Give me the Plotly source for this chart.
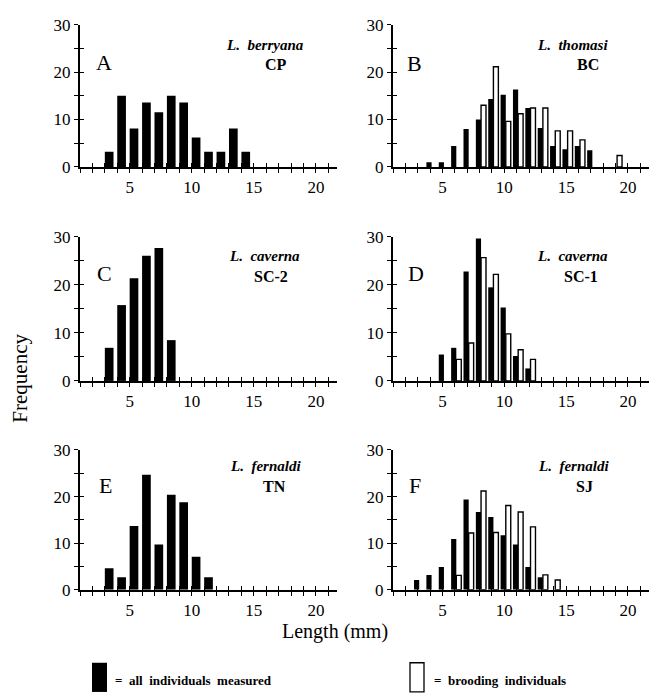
import plotly.graph_objects as go

# ---------------- data ----------------
A_len = [3, 4, 5, 6, 7, 8, 9, 10, 11, 12, 13, 14]
A_all = [3.2, 15, 8.1, 13.6, 11.5, 15, 13.6, 6.2, 3.2, 3.2, 8.1, 3.2]

B_len_all = [4, 5, 6, 7, 8, 9, 10, 11, 12, 13, 14, 15, 16, 17]
B_all = [1, 1, 4.4, 8, 10, 14.3, 15.2, 16.3, 12.4, 8.2, 4.4, 3.7, 4.4, 3.5]
B_len_brood = [8, 9, 10, 11, 12, 13, 14, 15, 16, 19]
B_brood = [13, 21.1, 9.6, 11.2, 12.4, 12.4, 7.6, 7.6, 5.7, 2.4]

C_len = [3, 4, 5, 6, 7, 8]
C_all = [6.9, 15.8, 21.4, 26.1, 27.7, 8.5]

D_len_all = [5, 6, 7, 8, 9, 10, 11, 12]
D_all = [5.5, 6.9, 22.8, 29.7, 19.5, 15.3, 5.2, 2.6]
D_len_brood = [6, 7, 8, 9, 10, 11, 12]
D_brood = [4.5, 7.9, 25.7, 22.2, 9.8, 6.5, 4.5]

E_len = [3, 4, 5, 6, 7, 8, 9, 10, 11]
E_all = [4.6, 2.7, 13.7, 24.7, 9.7, 20.4, 18.8, 7.1, 2.7]

F_len_all = [3, 4, 5, 6, 7, 8, 9, 10, 11, 12, 13]
F_all = [2.1, 3.2, 4.9, 10.9, 19.4, 16.7, 15.6, 11.7, 9.7, 4.9, 2.7]
F_len_brood = [6, 7, 8, 9, 10, 11, 12, 13, 14]
F_brood = [3.1, 12.2, 21.2, 12.3, 18.1, 16.7, 13.5, 3.2, 2.1]

panel_letters = ["A", "B", "C", "D", "E", "F"]
species = ["L.\u00a0\u00a0berryana", "L.\u00a0\u00a0thomasi", "L.\u00a0\u00a0caverna",
           "L.\u00a0\u00a0caverna", "L.\u00a0\u00a0fernaldi", "L.\u00a0\u00a0fernaldi"]
sites = ["CP", "BC", "SC-2", "SC-1", "TN", "SJ"]

x_ticks = list(range(1, 22))
x_labeled = {5: "5", 10: "10", 15: "15", 20: "20"}
x_ticklabels = [x_labeled.get(v, "") for v in x_ticks]
y_ticks = [0, 5, 10, 15, 20, 25, 30]
y_ticklabels = ["0", "", "10", "", "20", "", "30"]

# ---------------- layout geometry ----------------
W, H = 659, 700
FONT = "Liberation Serif"

def px_x(p):
    return p / W

def px_y(p):
    return 1 - p / H

x_doms = [(80, 337), (393, 649)]
y_doms = [(162.3, 16), (382.3, 234.3), (597, 453.3)]
XR = [1, 21.7]

fig = go.Figure()

panels = [
    (A_len, A_all, None, None),
    (B_len_all, B_all, B_len_brood, B_brood),
    (C_len, C_all, None, None),
    (D_len_all, D_all, D_len_brood, D_brood),
    (E_len, E_all, None, None),
    (F_len_all, F_all, F_len_brood, F_brood),
]

layout = {}
for i, (lx, ly, bx, by) in enumerate(panels):
    n = i + 1
    col = i % 2
    row = i // 2
    xs = "" if n == 1 else str(n)
    xref = "x" + xs
    yref = "y" + xs
    if bx is None:
        fig.add_trace(go.Bar(x=lx, y=ly, xaxis=xref, yaxis=yref, offset=0, width=0.7,
                             marker=dict(color="black", line=dict(width=0)), showlegend=False))
    else:
        fig.add_trace(go.Bar(x=lx, y=ly, xaxis=xref, yaxis=yref, offset=-0.3, width=0.42,
                             marker=dict(color="black", line=dict(width=0)), showlegend=False))
        fig.add_trace(go.Bar(x=bx, y=by, xaxis=xref, yaxis=yref, offset=0.12, width=0.4,
                             marker=dict(color="white", line=dict(width=1.4, color="black")),
                             showlegend=False))
    m = n + 6
    # empty helper trace so the overlay axes (inner half of the crossing ticks) are drawn
    fig.add_trace(go.Scatter(x=[], y=[], xaxis="x" + str(m), yaxis="y" + str(m),
                             showlegend=False, hoverinfo="skip"))
    xd = [px_x(x_doms[col][0]), px_x(x_doms[col][1])]
    yd = [px_y(y_doms[row][0]), px_y(y_doms[row][1])]
    common_x = dict(range=XR, tickvals=x_ticks, showgrid=False, zeroline=False,
                    tickwidth=1.3, ticklen=4, tickcolor="black")
    common_y = dict(range=[0, 30], tickvals=y_ticks, showgrid=False, zeroline=False,
                    tickwidth=1.3, ticklen=4, tickcolor="black")
    layout["xaxis" + xs] = dict(domain=xd, anchor=yref, ticktext=x_ticklabels, ticks="outside",
                                showline=True, linewidth=2, linecolor="black",
                                tickfont=dict(family=FONT, size=17, color="black"), **common_x)
    layout["yaxis" + xs] = dict(domain=yd, anchor=xref, ticktext=y_ticklabels, ticks="outside",
                                showline=True, linewidth=2, linecolor="black",
                                tickfont=dict(family=FONT, size=17, color="black"), **common_y)
    layout["xaxis" + str(m)] = dict(overlaying=xref, anchor="y" + str(m), ticks="inside",
                                    domain=xd, showticklabels=False, showline=False, **common_x)
    layout["yaxis" + str(m)] = dict(overlaying=yref, anchor="x" + str(m), ticks="inside",
                                    domain=yd, showticklabels=False, showline=False, **common_y)

fig.update_layout(**layout)
fig.update_layout(barmode="overlay", width=W, height=H, margin=dict(l=0, r=0, t=0, b=0),
                  plot_bgcolor="white", paper_bgcolor="white", showlegend=False,
                  font=dict(family=FONT, color="black"))

ann = []
letter_pos = [(104, 55), (414, 56), (104, 272), (416, 272), (105, 490), (415, 490)]
species_pos = [(265, 37), (572, 37), (264, 254), (572, 254), (265, 470), (573, 470)]
site_pos = [(276, 57), (588, 57), (271, 275), (581, 275), (274, 491), (584, 491)]
for i in range(6):
    ann.append(dict(x=px_x(letter_pos[i][0]), y=px_y(letter_pos[i][1]), xref="paper", yref="paper",
                    text=panel_letters[i], showarrow=False, font=dict(family=FONT, size=22),
                    xanchor="center", yanchor="middle"))
    ann.append(dict(x=px_x(species_pos[i][0]), y=px_y(species_pos[i][1]), xref="paper", yref="paper",
                    text="<b><i>" + species[i] + "</i></b>", showarrow=False,
                    font=dict(family=FONT, size=15), xanchor="center", yanchor="middle"))
    ann.append(dict(x=px_x(site_pos[i][0]), y=px_y(site_pos[i][1]), xref="paper", yref="paper",
                    text="<b>" + sites[i] + "</b>", showarrow=False,
                    font=dict(family=FONT, size=16), xanchor="center", yanchor="middle"))

ann.append(dict(x=px_x(20), y=px_y(380), xref="paper", yref="paper", text="Frequency",
                textangle=-90, showarrow=False, font=dict(family=FONT, size=21),
                xanchor="center", yanchor="middle"))
ann.append(dict(x=px_x(335), y=px_y(640), xref="paper", yref="paper", text="Length (mm)",
                showarrow=False, font=dict(family=FONT, size=20), xanchor="center", yanchor="middle"))
ann.append(dict(x=px_x(113), y=px_y(690), xref="paper", yref="paper",
                text="<b>=\u00a0 all\u00a0 individuals\u00a0 measured</b>",
                showarrow=False, font=dict(family=FONT, size=13), xanchor="left", yanchor="middle"))
ann.append(dict(x=px_x(432), y=px_y(690), xref="paper", yref="paper",
                text="<b>=\u00a0 brooding\u00a0 individuals</b>",
                showarrow=False, font=dict(family=FONT, size=13), xanchor="left", yanchor="middle"))
fig.update_layout(annotations=ann)

# legend swatches
fig.add_shape(type="rect", xref="paper", yref="paper", x0=px_x(92), x1=px_x(107),
              y0=px_y(702), y1=px_y(672), fillcolor="black", line=dict(width=0))
fig.add_shape(type="rect", xref="paper", yref="paper", x0=px_x(410), x1=px_x(424),
              y0=px_y(702), y1=px_y(672), fillcolor="white", line=dict(width=1.3, color="black"))

fig.write_html("out.html", config={"displayModeBar": False},
               post_script="document.body.style.margin='0px';")
